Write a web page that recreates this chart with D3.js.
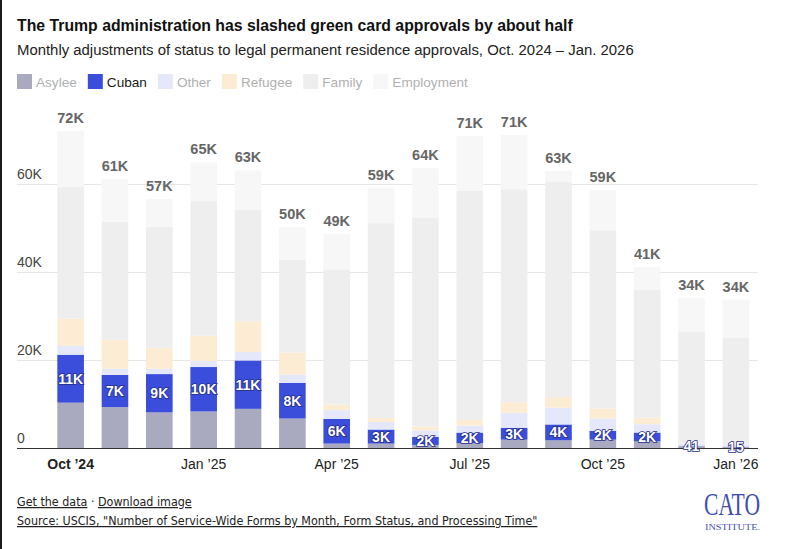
<!DOCTYPE html>
<html>
<head>
<meta charset="utf-8">
<script src="https://cdn.jsdelivr.net/npm/d3@7"></script>
<style>
  body { margin: 0; background: #fff; }
  svg { display: block; font-family: "Liberation Sans", Arial, sans-serif; }
</style>
</head>
<body>
<div id="chart"></div>
<script>
// months shown on the x axis (one bar each)
var months = ["Oct 2024", "Nov 2024", "Dec 2024", "Jan 2025", "Feb 2025", "Mar 2025",
  "Apr 2025", "May 2025", "Jun 2025", "Jul 2025", "Aug 2025", "Sep 2025",
  "Oct 2025", "Nov 2025", "Dec 2025", "Jan 2026"];

// approvals per category
var asylee     = [10300, 9300, 8100, 8300, 8900, 6700, 1000, 1000, 700, 1100, 1900, 1750, 1900, 1500, 400, 300];
var cuban      = [10900, 7300, 8700, 10100, 11000, 8100, 5600, 3200, 1800, 2400, 2700, 3600, 2000, 2000, 41, 15];
var other      = [2000, 1400, 1200, 1400, 1900, 1900, 2000, 1700, 1500, 1600, 3400, 3800, 2800, 1900, 500, 500];
var refugee    = [6200, 6600, 4800, 5700, 7000, 5000, 1300, 900, 900, 1300, 2400, 2400, 2300, 1500, 100, 100];
var family     = [29900, 26800, 27400, 30600, 25400, 21100, 30700, 44300, 47500, 52100, 48400, 48900, 40500, 29100, 25300, 24200];
var employment = [12700, 9700, 6400, 8800, 8900, 7400, 8100, 8100, 11200, 12400, 12300, 2500, 9100, 5100, 7700, 8600];

var seriesNames = ["Asylee", "Cuban", "Other", "Refugee", "Family", "Employment"];
var seriesColors = ["#a9a9bf", "#3a4edb", "#e5e8fa", "#fdecd4", "#eeeeee", "#f7f7f7"];

// y ticks and labelled x ticks
var yTicks = [0, 20000, 40000, 60000];
var xTickMonths = ["Oct 2024", "Jan 2025", "Apr 2025", "Jul 2025", "Oct 2025", "Jan 2026"];
var xTickLabels = ["Oct \u201924", "Jan \u201925", "Apr \u201925", "Jul \u201925", "Oct \u201925", "Jan \u201926"];

var width = 790, height = 549;
var left = 17, right = 758;

var rows = months.map(function(m, i) {
  return { month: m, Asylee: asylee[i], Cuban: cuban[i], Other: other[i],
    Refugee: refugee[i], Family: family[i], Employment: employment[i] };
});

var fmtK = function(v) {
  return v >= 1000 ? Math.round(v / 1000) + "K" : String(v);
};

var svg = d3.select("#chart").append("svg")
  .attr("width", width)
  .attr("height", height);

svg.append("rect").attr("width", width).attr("height", height).attr("fill", "#fff");
// dark edge on the left of the screenshot
svg.append("rect").attr("width", 2).attr("height", height).attr("fill", "#1a1a1a");

// title + subtitle
svg.append("text")
  .attr("x", left).attr("y", 31)
  .attr("font-size", 15.8).attr("font-weight", "bold").attr("fill", "#111")
  .text("The Trump administration has slashed green card approvals by about half");

svg.append("text")
  .attr("x", left).attr("y", 54.5)
  .attr("font-size", 14.9).attr("fill", "#222")
  .text("Monthly adjustments of status to legal permanent residence approvals, Oct. 2024 \u2013 Jan. 2026");

// legend
var lx = left;
var legend = svg.append("g");
seriesNames.forEach(function(name, i) {
  var g = legend.append("g").attr("transform", "translate(" + lx + ",74)");
  g.append("rect").attr("width", 15).attr("height", 15).attr("fill", seriesColors[i]);
  var t = g.append("text")
    .attr("x", 19).attr("y", 12.5)
    .attr("font-size", 13.6)
    .attr("fill", name === "Cuban" ? "#1a1a1a" : "#b0b0b0")
    .text(name);
  lx += 19 + t.node().getComputedTextLength() + 11;
});

// scales
var x = d3.scaleBand()
  .domain(months)
  .range([44, 762.5])
  .paddingInner(0.4)
  .paddingOuter(0.3);

var y = d3.scaleLinear()
  .domain([0, 60000])
  .range([448, 184]);

// grid
var grid = svg.append("g");
yTicks.forEach(function(t) {
  if (t > 0) {
    grid.append("line")
      .attr("x1", left).attr("x2", right)
      .attr("y1", y(t) + 0.5).attr("y2", y(t) + 0.5)
      .attr("stroke", "#e6e6e6");
  }
  grid.append("text")
    .attr("x", left).attr("y", y(t) - 5)
    .attr("font-size", 14).attr("fill", "#444")
    .text(t === 0 ? "0" : fmtK(t));
});

// stacked bars
var stack = d3.stack().keys(seriesNames)(rows);

svg.append("g")
  .selectAll("g")
  .data(stack)
  .join("g")
  .attr("fill", function(d, i) { return seriesColors[i]; })
  .selectAll("rect")
  .data(function(d) { return d; })
  .join("rect")
  .attr("x", function(d) { return x(d.data.month); })
  .attr("width", x.bandwidth())
  .attr("y", function(d) { return y(d[1]); })
  .attr("height", function(d) { return y(d[0]) - y(d[1]); });

// baseline
svg.append("line")
  .attr("x1", left).attr("x2", right)
  .attr("y1", y(0) + 0.5).attr("y2", y(0) + 0.5)
  .attr("stroke", "#333");

// totals above bars
var totals = stack[stack.length - 1];
svg.append("g")
  .selectAll("text")
  .data(totals)
  .join("text")
  .attr("x", function(d) { return x(d.data.month) + x.bandwidth() / 2; })
  .attr("y", function(d) { return y(d[1]) - 8; })
  .attr("text-anchor", "middle")
  .attr("font-size", 14.5).attr("font-weight", "bold").attr("fill", "#666")
  .text(function(d) { return fmtK(d[1]); });

// cuban value labels
svg.append("g")
  .selectAll("text")
  .data(stack[1])
  .join("text")
  .attr("x", function(d) { return x(d.data.month) + x.bandwidth() / 2; })
  .attr("y", function(d) { return (y(d[0]) + y(d[1])) / 2; })
  .attr("dy", "0.36em")
  .attr("text-anchor", "middle")
  .attr("font-size", 14).attr("font-weight", "bold")
  .attr("fill", "#fff")
  .attr("stroke", "#27308a").attr("stroke-width", 1.6)
  .attr("paint-order", "stroke")
  .text(function(d) { return fmtK(d.data.Cuban); });

// x tick labels
xTickMonths.forEach(function(m, i) {
  svg.append("text")
    .attr("x", x(m) + x.bandwidth() / 2)
    .attr("y", 469)
    .attr("text-anchor", "middle")
    .attr("font-size", 14)
    .attr("font-weight", i === 0 ? "bold" : "normal")
    .attr("fill", "#222")
    .text(xTickLabels[i]);
});

// footer
var foot = svg.append("g")
  .attr("font-family", "'Liberation Sans Narrow', 'DejaVu Sans Condensed', sans-serif")
  .attr("font-size", 12.4).attr("fill", "#222");

var links = foot.append("text").attr("x", left).attr("y", 506);
links.append("tspan").attr("text-decoration", "underline").text("Get the data");
links.append("tspan").text(" \u00b7 ");
links.append("tspan").attr("text-decoration", "underline").text("Download image");

foot.append("text")
  .attr("x", left).attr("y", 525)
  .attr("text-decoration", "underline")
  .text("Source: USCIS, \"Number of Service-Wide Forms by Month, Form Status, and Processing Time\"");

// CATO logo
var logo = svg.append("g").attr("fill", "#3f4fb0")
  .attr("font-family", "'Liberation Serif', 'DejaVu Serif', serif");
logo.append("text")
  .attr("x", 704).attr("y", 515)
  .attr("font-size", 32)
  .attr("textLength", 56).attr("lengthAdjust", "spacingAndGlyphs")
  .text("CATO");
logo.append("text")
  .attr("x", 705).attr("y", 529.5)
  .attr("font-size", 8)
  .attr("textLength", 55).attr("lengthAdjust", "spacingAndGlyphs")
  .text("INSTITUTE.");
</script>
</body>
</html>
